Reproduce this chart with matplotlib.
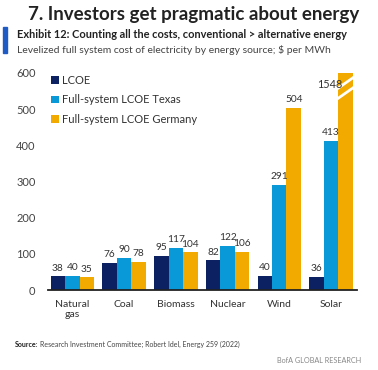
import numpy as np
import matplotlib
matplotlib.use("Agg")
import matplotlib.pyplot as plt
from matplotlib.patches import Rectangle

plt.rcParams['font.family'] = ['Lato', 'DejaVu Sans']

categories = ['Natural\ngas', 'Coal', 'Biomass', 'Nuclear', 'Wind', 'Solar']
series = ['LCOE', 'Full-system LCOE Texas', 'Full-system LCOE Germany']
lcoe = [38, 76, 95, 82, 40, 36]
texas = [40, 90, 117, 122, 291, 413]
germany = [35, 78, 104, 106, 504, 1548]
colors = ['#0c2161', '#0a99d8', '#f2a900']
ymax = 600

fig = plt.figure(figsize=(3.78, 3.70), dpi=100)
ax = fig.add_axes([0.127, 0.216, 0.817, 0.587])

x = np.arange(len(categories))
w = 0.28
for k, (vals, name, c) in enumerate(zip([lcoe, texas, germany], series, colors)):
    xs = x + (k - 1) * w
    shown = [min(v, ymax) for v in vals]
    ax.bar(xs, shown, width=w, color=c, label=name, linewidth=0)
    for xi, v in zip(xs, vals):
        if v > ymax:
            # broken bar: white slashes and the label beside it
            for y0 in (528, 556):
                ax.plot([xi - w / 2 - 0.02, xi + w / 2 + 0.02], [y0, y0 + 32],
                        color='white', lw=2.0, solid_capstyle='butt', clip_on=True)
            ax.text(xi - 0.05, 567, str(v), ha='right', va='center',
                    fontsize=7.8, color='#333333')
        else:
            ax.text(xi, v + 10, str(v), ha='center', va='bottom',
                    fontsize=7.3, color='#333333')

ax.set_xlim(-0.47, 5.5)
ax.set_ylim(0, ymax)
ax.set_yticks(range(0, 601, 100))
ax.set_xticks(x)
ax.set_xticklabels(categories, fontsize=7.5, color='#333333', linespacing=1.1)
ax.tick_params(axis='y', length=0, labelsize=8, labelcolor='#444444', pad=9)
ax.tick_params(axis='x', length=0, pad=7)
for s in ['top', 'right', 'left']:
    ax.spines[s].set_visible(False)
ax.spines['bottom'].set_color('#222222')
ax.spines['bottom'].set_linewidth(1.3)

ax.legend(loc='upper left', bbox_to_anchor=(0.01, 0.99), frameon=False,
          fontsize=8, handlelength=0.7, handleheight=0.7, handletextpad=0.3,
          labelspacing=0.75, borderaxespad=0, borderpad=0, labelcolor='#333333')

fig.text(0.512, 0.962, '7. Investors get pragmatic about energy', ha='center', va='center',
         fontsize=13.5, fontweight='bold', color='#222222')
fig.patches.append(Rectangle((0.008, 0.857), 0.011, 0.07, transform=fig.transFigure,
                             color='#1f5bc4', zorder=3))
fig.text(0.045, 0.908, 'Exhibit 12: Counting all the costs, conventional > alternative energy',
         ha='left', va='center', fontsize=7.9, fontweight='bold', color='#222222')
fig.text(0.045, 0.865, 'Levelized full system cost of electricity by energy source; $ per MWh',
         ha='left', va='center', fontsize=7.5, color='#444444')

fig.text(0.04, 0.068, 'Source:', ha='left', va='center', fontsize=5, fontweight='bold',
         color='#222222')
fig.text(0.105, 0.068, 'Research Investment Committee; Robert Idel, Energy 259 (2022)',
         ha='left', va='center', fontsize=5, color='#444444')
fig.text(0.955, 0.027, 'BofA GLOBAL RESEARCH', ha='right', va='center', fontsize=5.2,
         color='#888888')

fig.savefig('out.png', dpi=100)
